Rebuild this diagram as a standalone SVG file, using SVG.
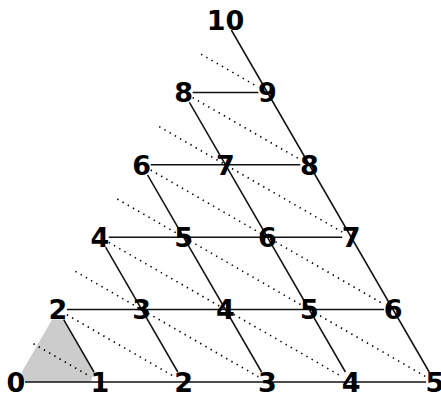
<svg xmlns="http://www.w3.org/2000/svg" width="441" height="393" viewBox="0 0 441 393">
<style>
.lbl{font-family:"DejaVu Sans","Liberation Sans",sans-serif;font-weight:bold;font-size:27px;fill:#000;text-anchor:middle}
.solid{stroke:#111;stroke-width:1.5;fill:none}
.dot{stroke:#000;stroke-width:1.6;stroke-dasharray:1.4 4.6;fill:none}
.shade{fill:#cccccc;stroke:none}
</style>
<rect width="441" height="393" fill="#fff"/>
<polygon class="shade" points="25,382 90.8,382 94,372 63.7,319.6 52.1,319.6 21.8,372"/>
<g id="connectors">
<g id="isolines">
<line class="dot" x1="33.5" y1="343.8" x2="90.8" y2="376.8"/>
<line class="dot" x1="66.9" y1="314.8" x2="174.6" y2="376.8"/>
<line class="dot" x1="75.4" y1="271.4" x2="258.4" y2="376.8"/>
<line class="dot" x1="108.8" y1="242.4" x2="342.2" y2="376.8"/>
<line class="dot" x1="117.3" y1="199" x2="426" y2="376.8"/>
<line class="dot" x1="150.7" y1="170" x2="384.1" y2="304.4"/>
<line class="dot" x1="159.2" y1="126.6" x2="342.2" y2="232"/>
<line class="dot" x1="192.6" y1="97.6" x2="300.3" y2="159.6"/>
<line class="dot" x1="201.1" y1="54.2" x2="258.4" y2="87.2"/>
</g>
<g id="rows">
<line class="solid" x1="25" y1="382" x2="426" y2="382"/>
<line class="solid" x1="66.9" y1="309.6" x2="384.1" y2="309.6"/>
<line class="solid" x1="108.8" y1="237.2" x2="342.2" y2="237.2"/>
<line class="solid" x1="150.7" y1="164.8" x2="300.3" y2="164.8"/>
<line class="solid" x1="192.6" y1="92.4" x2="258.4" y2="92.4"/>
</g>
<g id="diagonals">
<line class="solid" x1="63.7" y1="319.6" x2="94" y2="372"/>
<line class="solid" x1="105.6" y1="247.2" x2="177.8" y2="372"/>
<line class="solid" x1="147.5" y1="174.8" x2="261.6" y2="372"/>
<line class="solid" x1="189.4" y1="102.4" x2="345.4" y2="372"/>
<line class="solid" x1="231.3" y1="30" x2="429.2" y2="372"/>
</g>
</g>
<g id="n0_0"><text class="lbl" x="16" y="391.8">0</text></g>
<g id="n1_0"><text class="lbl" x="99.8" y="391.8">1</text></g>
<g id="n2_0"><text class="lbl" x="183.6" y="391.8">2</text></g>
<g id="n3_0"><text class="lbl" x="267.4" y="391.8">3</text></g>
<g id="n4_0"><text class="lbl" x="351.2" y="391.8">4</text></g>
<g id="n5_0"><text class="lbl" x="435" y="391.8">5</text></g>
<g id="n0_1"><text class="lbl" x="57.9" y="319.4">2</text></g>
<g id="n1_1"><text class="lbl" x="141.7" y="319.4">3</text></g>
<g id="n2_1"><text class="lbl" x="225.5" y="319.4">4</text></g>
<g id="n3_1"><text class="lbl" x="309.3" y="319.4">5</text></g>
<g id="n4_1"><text class="lbl" x="393.1" y="319.4">6</text></g>
<g id="n0_2"><text class="lbl" x="99.8" y="247">4</text></g>
<g id="n1_2"><text class="lbl" x="183.6" y="247">5</text></g>
<g id="n2_2"><text class="lbl" x="267.4" y="247">6</text></g>
<g id="n3_2"><text class="lbl" x="351.2" y="247">7</text></g>
<g id="n0_3"><text class="lbl" x="141.7" y="174.6">6</text></g>
<g id="n1_3"><text class="lbl" x="225.5" y="174.6">7</text></g>
<g id="n2_3"><text class="lbl" x="309.3" y="174.6">8</text></g>
<g id="n0_4"><text class="lbl" x="183.6" y="102.2">8</text></g>
<g id="n1_4"><text class="lbl" x="267.4" y="102.2">9</text></g>
<g id="n0_5"><text class="lbl" x="225.5" y="29.8">10</text></g>
</svg>
